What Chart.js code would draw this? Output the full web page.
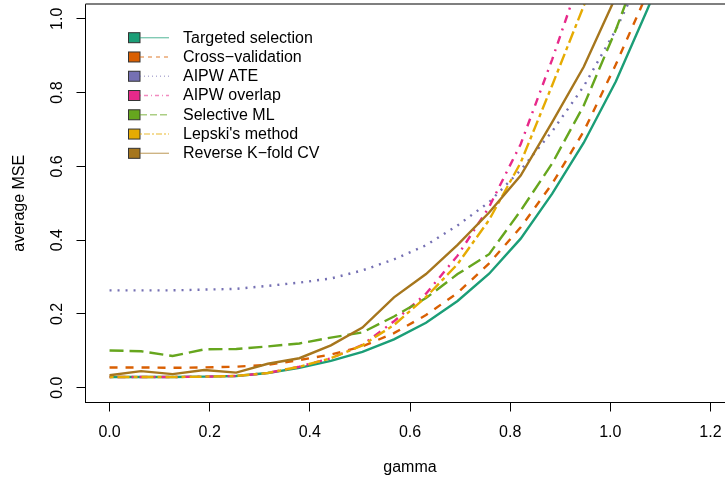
<!DOCTYPE html>
<html>
<head>
<meta charset="utf-8">
<script src="https://cdn.jsdelivr.net/npm/chart.js@4.4.1/dist/chart.umd.min.js"></script>
<style>
  html, body { margin: 0; padding: 0; background: #fff; overflow: hidden; }
  #wrap { width: 745px; height: 487px; }
</style>
</head>
<body>
<div id="wrap"><canvas id="mseChart" width="745" height="487"></canvas></div>
<script>
// gamma grid (20 points from 0 to 1.2)
const gammas = [0, 0.063, 0.126, 0.189, 0.253, 0.316, 0.379, 0.442, 0.505, 0.568,
  0.632, 0.695, 0.758, 0.821, 0.884, 0.947, 1.011, 1.074, 1.137, 1.2];

// average MSE per method (last value of each runs past the top of the plot)
const targeted = [0.029, 0.029, 0.029, 0.030, 0.032, 0.040, 0.054, 0.073, 0.097, 0.131,
  0.176, 0.235, 0.309, 0.404, 0.526, 0.664, 0.830, 1.025, 1.23];
const crossVal = [0.055, 0.055, 0.054, 0.055, 0.057, 0.062, 0.075, 0.090, 0.112, 0.148,
  0.197, 0.257, 0.337, 0.435, 0.553, 0.695, 0.876, 1.07];
const aipwAte = [0.264, 0.264, 0.264, 0.266, 0.268, 0.276, 0.285, 0.296, 0.318, 0.348,
  0.386, 0.440, 0.503, 0.590, 0.695, 0.817, 0.970, 1.15];
const aipwOverlap = [0.029, 0.029, 0.029, 0.030, 0.032, 0.040, 0.057, 0.080, 0.116, 0.180,
  0.255, 0.358, 0.490, 0.660, 0.890, 1.14];
const selectiveML = [0.101, 0.099, 0.086, 0.104, 0.105, 0.112, 0.120, 0.136, 0.150, 0.193,
  0.243, 0.308, 0.362, 0.480, 0.608, 0.765, 0.970, 1.20];
const lepski = [0.029, 0.029, 0.029, 0.030, 0.032, 0.040, 0.057, 0.080, 0.115, 0.170,
  0.246, 0.335, 0.455, 0.610, 0.820, 1.035, 1.27];
const reverseKfold = [0.034, 0.045, 0.037, 0.048, 0.041, 0.065, 0.080, 0.115, 0.163, 0.245,
  0.308, 0.387, 0.475, 0.575, 0.720, 0.870, 1.06];

const xTicks = [0, 0.2, 0.4, 0.6, 0.8, 1.0, 1.2];
const yTicks = [0, 0.2, 0.4, 0.6, 0.8, 1.0];

const series = [
  { label: 'Targeted selection', values: targeted, color: '#1B9E77', dash: [] },
  { label: 'Cross\u2212validation', values: crossVal, color: '#D95F02', dash: [8, 8] },
  { label: 'AIPW ATE', values: aipwAte, color: '#7570B3', dash: [2, 6] },
  { label: 'AIPW overlap', values: aipwOverlap, color: '#E7298A', dash: [2, 6, 8, 6] },
  { label: 'Selective ML', values: selectiveML, color: '#66A61E', dash: [14, 6] },
  { label: "Lepski's method", values: lepski, color: '#E6AB02', dash: [4, 4, 12, 4] },
  { label: 'Reverse K\u2212fold CV', values: reverseKfold, color: '#A6761D', dash: [] }
];

const FONT = "'Liberation Sans', Arial, Helvetica, sans-serif";
Chart.defaults.font.family = FONT;
Chart.defaults.font.size = 16;
Chart.defaults.color = '#000';

// R-style legend: filled square + short line sample + label
const legendPlugin = {
  id: 'rLegend',
  afterDraw(chart) {
    const ctx = chart.ctx;
    ctx.save();
    chart.data.datasets.forEach((ds, i) => {
      const cy = 37.7 + i * 19.27;
      ctx.fillStyle = ds.borderColor;
      ctx.fillRect(128.5, cy - 5, 11.5, 10);
      ctx.strokeStyle = '#333';
      ctx.lineWidth = 1;
      ctx.strokeRect(128.5, cy - 5, 11.5, 10);
      ctx.globalAlpha = 0.55;
      ctx.strokeStyle = ds.borderColor;
      ctx.lineWidth = 1.4;
      ctx.setLineDash(ds.borderDash.map(d => d / 2));
      ctx.beginPath();
      ctx.moveTo(140, cy);
      ctx.lineTo(169, cy);
      ctx.stroke();
      ctx.setLineDash([]);
      ctx.globalAlpha = 1;
      ctx.fillStyle = '#000';
      ctx.font = '16px ' + FONT;
      ctx.textBaseline = 'middle';
      ctx.textAlign = 'left';
      ctx.fillText(ds.label, 183, cy + 0.5);
    });
    // top of the plot box
    const a = chart.chartArea;
    ctx.strokeStyle = '#555';
    ctx.lineWidth = 1.5;
    ctx.beginPath();
    ctx.moveTo(a.left, a.top);
    ctx.lineTo(a.right, a.top);
    ctx.stroke();
    ctx.restore();
  }
};

// keep the plot box fixed: no extra padding for rotated / edge labels
function noEdgePadding(scale) {
  scale.paddingTop = 0;
  scale.paddingBottom = 0;
  scale.paddingLeft = 0;
  scale.paddingRight = 0;
}

const ctx = document.getElementById('mseChart').getContext('2d');
const chart = new Chart(ctx, {
  type: 'line',
  data: {
    datasets: series.map((s, i) => ({
      label: s.label,
      data: s.values.map((v, j) => ({ x: gammas[j], y: v })),
      borderColor: s.color,
      backgroundColor: s.color,
      borderDash: s.dash,
      borderWidth: 2.4,
      borderCapStyle: 'butt',
      pointRadius: 0,
      tension: 0,
      fill: false,
      clip: 0,
      order: series.length - 1 - i
    }))
  },
  options: {
    responsive: false,
    animation: false,
    devicePixelRatio: 1,
    layout: { padding: { top: 4, right: 10.5, bottom: 0, left: 0 } },
    plugins: {
      legend: { display: false },
      tooltip: { enabled: false }
    },
    scales: {
      x: {
        type: 'linear',
        min: -0.048,
        max: 1.248,
        afterFit: scale => { scale.height = 84.5; noEdgePadding(scale); },
        afterBuildTicks: scale => { scale.ticks = xTicks.map(v => ({ value: v })); },
        ticks: {
          callback: v => v.toFixed(1),
          padding: 11,
          maxRotation: 0,
          autoSkip: false
        },
        grid: { display: true, drawOnChartArea: false, drawTicks: true, tickLength: 9, color: '#000', lineWidth: 1 },
        border: { display: true, color: '#000', width: 1 },
        title: { display: true, text: 'gamma', padding: { top: 0, bottom: 10 }, font: { size: 16 } }
      },
      y: {
        type: 'linear',
        min: -0.04,
        max: 1.04,
        afterFit: scale => { scale.width = 85.5; noEdgePadding(scale); },
        afterBuildTicks: scale => { scale.ticks = yTicks.map(v => ({ value: v })); },
        ticks: {
          callback: v => v.toFixed(1),
          minRotation: 90,
          maxRotation: 90,
          crossAlign: 'center',
          padding: 8,
          autoSkip: false
        },
        grid: { display: true, drawOnChartArea: false, drawTicks: true, tickLength: 9, color: '#000', lineWidth: 1 },
        border: { display: true, color: '#000', width: 1 },
        title: { display: true, text: 'average MSE', padding: { top: 10, bottom: 0 }, font: { size: 16 } }
      }
    }
  },
  plugins: [legendPlugin]
});
</script>
</body>
</html>
